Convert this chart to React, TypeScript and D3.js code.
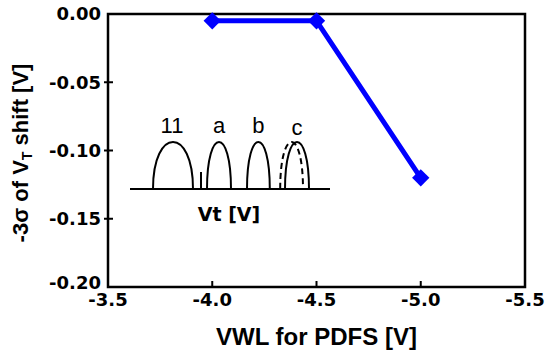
import React from "react";
import * as d3 from "d3";

const xValues = [-4.0, -4.5, -5.0];
const yValues = [-0.005, -0.005, -0.12];
const xTicks = [-3.5, -4.0, -4.5, -5.0, -5.5];
const yTicks = [0, -0.05, -0.1, -0.15, -0.2];

// inset illustration (arbitrary Vt units)
const insetLabels = ["11", "a", "b", "c"];
const insetSolid = [
  [0.0, 1.0],
  [1.35, 1.95],
  [2.35, 2.92],
  [3.3, 3.9],
];
const insetDashed = [[3.18, 3.75]];
const insetMarker = [1.2];

const W = 546;
const H = 354;
const M = { left: 108, right: 21, top: 14, bottom: 67 };
const FONT = "'DejaVu Sans', sans-serif";
const ARIAL = "'Liberation Sans', Arial, sans-serif";

export default function App() {
  const x = d3.scaleLinear().domain([-3.5, -5.5]).range([M.left, W - M.right]);
  const y = d3.scaleLinear().domain([0, -0.2]).range([M.top, H - M.bottom]);
  const line = d3
    .line<number>()
    .x((_, i) => x(xValues[i]))
    .y((d) => y(d));
  const diamond = d3.symbol().type(d3.symbolSquare).size(150)();

  // inset scales
  const ix = d3.scaleLinear().domain([0, 1]).range([153, 193]);
  const iBase = 189;
  const iPeak = 142;
  const ctrl = iBase - (iBase - iPeak) / 0.75;
  const arch = (a: number, b: number) =>
    `M${ix(a)},${iBase} C${ix(a)},${ctrl} ${ix(b)},${ctrl} ${ix(b)},${iBase}`;

  const x0 = M.left;
  const x1 = W - M.right;
  const y0 = M.top;
  const y1 = H - M.bottom;

  return (
    <svg width={W} height={H} style={{ position: "absolute", left: 0, top: 0, background: "#fff" }}>
      <rect width={W} height={H} fill="#fff" />
      {/* frame */}
      <path d={`M${x0},${y0} H${x1} V${y1} H${x0} Z`} fill="none" stroke="#000" strokeWidth={2.5} />
      {/* y ticks */}
      {yTicks.map((t) => (
        <g key={"y" + t}>
          {t !== 0 && t !== -0.2 && (
            <line x1={x0 - 4} x2={x0 + 5} y1={y(t)} y2={y(t)} stroke="#000" strokeWidth={2} />
          )}
          <text
            x={x0 - 7}
            y={y(t)}
            dy={t === -0.2 ? "0.1em" : "0.36em"}
            textAnchor="end"
            fontFamily={FONT}
            fontWeight="bold"
            fontSize={18}
          >
            {t.toFixed(2)}
          </text>
        </g>
      ))}
      {/* x ticks */}
      {xTicks.map((t) => (
        <g key={"x" + t}>
          {t !== -3.5 && t !== -5.5 && (
            <line x1={x(t)} x2={x(t)} y1={y1} y2={y1 - 6} stroke="#000" strokeWidth={2} />
          )}
          <text
            x={x(t)}
            y={y1 + 19}
            textAnchor="middle"
            fontFamily={FONT}
            fontWeight="bold"
            fontSize={18}
          >
            {t.toFixed(1)}
          </text>
        </g>
      ))}
      {/* axis titles */}
      <text
        x={(x0 + x1) / 2}
        y={345}
        textAnchor="middle"
        fontFamily={ARIAL}
        fontWeight="bold"
        fontSize={24}
      >
        VWL for PDFS [V]
      </text>
      <text
        transform={`translate(28,${153}) rotate(-90)`}
        textAnchor="middle"
        fontFamily={ARIAL}
        fontWeight="bold"
        fontSize={22}
      >
        -3σ of V<tspan fontSize={14} dy={4}>T</tspan>
        <tspan dy={-4}> shift [V]</tspan>
      </text>

      {/* inset */}
      <g>
        <line x1={130} x2={330} y1={iBase} y2={iBase} stroke="#000" strokeWidth={2} />
        {insetSolid.map((s, i) => (
          <path key={"s" + i} d={arch(s[0], s[1])} fill="none" stroke="#000" strokeWidth={2} />
        ))}
        {insetDashed.map((s, i) => (
          <path
            key={"d" + i}
            d={arch(s[0], s[1])}
            fill="none"
            stroke="#000"
            strokeWidth={2}
            strokeDasharray="6,4"
          />
        ))}
        {insetMarker.map((m, i) => (
          <line key={"m" + i} x1={ix(m)} x2={ix(m)} y1={iBase} y2={172} stroke="#000" strokeWidth={2} />
        ))}
        {insetLabels.map((l, i) => (
          <text
            key={l}
            x={(ix(insetSolid[i][0]) + ix(insetSolid[i][1])) / 2 + (i === 0 ? -1 : 0)}
            y={i === 3 ? 135 : 133}
            textAnchor="middle"
            fontFamily={ARIAL}
            fontSize={22}
          >
            {l}
          </text>
        ))}
        <text x={229} y={221} textAnchor="middle" fontFamily={FONT} fontWeight="bold" fontSize={19}>
          Vt [V]
        </text>
      </g>

      {/* data */}
      <path d={line(yValues) || ""} fill="none" stroke="#0000ff" strokeWidth={5} strokeLinejoin="round" />
      {yValues.map((v, i) => (
        <path
          key={"p" + i}
          d={diamond || ""}
          transform={`translate(${x(xValues[i])},${y(v)}) rotate(45)`}
          fill="#0000ff"
        />
      ))}
    </svg>
  );
}
